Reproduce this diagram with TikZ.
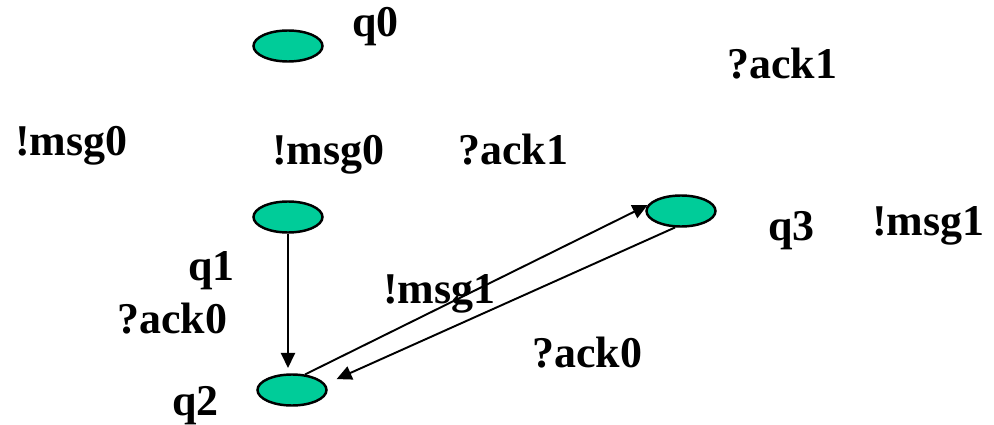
\documentclass[tikz,border=0pt]{standalone}
\usepackage{fontspec}
\setmainfont{Liberation Serif}
\definecolor{StateGreen}{HTML}{00CC99}
\usepackage{tikz}
\usetikzlibrary{positioning,shapes.geometric,arrows.meta,calc}

\tikzset{
  state/.style={ellipse, draw=black, line width=1.4pt, fill=StateGreen,
    minimum width=1.38cm, minimum height=0.62cm, inner sep=0pt},
  lbl/.style={anchor=base west, inner sep=0pt,
    font=\fontsize{25}{30}\selectfont\bfseries},
  trans/.style={line width=1.1pt, -{Triangle[length=0.3cm,width=0.28cm]}}
}

\begin{document}
\begin{tikzpicture}[x=0.2mm,y=-0.2mm]
  \useasboundingbox (0,0) rectangle (994,425);

  % states
  \node[state] (q0) at (288,46) {};
  \node[state] (q1) at (288,217) {};
  \node[state] (q2) at (292,390) {};
  \node[state] (q3) at (681,211) {};

  % labels
  \node[lbl] (nq0) at (352,37) {q0};
  \node[lbl] (nq1) at (188,280) {q1};
  \node[lbl] (nq2) at (172,415) {q2};
  \node[lbl] (nq3) at (768,240) {q3};
  \node[lbl] (send0a) at (15,155) {!msg0};
  \node[lbl] (send0b) at (272,165) {!msg0};
  \node[lbl] (recv1a) at (727,79) {?ack1};
  \node[lbl] (recv1b) at (458,165) {?ack1};
  \node[lbl] (send1a) at (872,235) {!msg1};
  \node[lbl] (send1b) at (383,303) {!msg1};
  \node[lbl] (recv0a) at (117,333) {?ack0};
  \node[lbl] (recv0b) at (532,367) {?ack0};

  % transitions
  \draw[trans, shorten >=3pt] (q1.south) -- (q1.south |- q2.north);
  \draw[trans] (q2.50) -- (q3.170);
  \draw[trans, shorten >=7pt] (q3.250) -- (q2.10);
\end{tikzpicture}
\end{document}
